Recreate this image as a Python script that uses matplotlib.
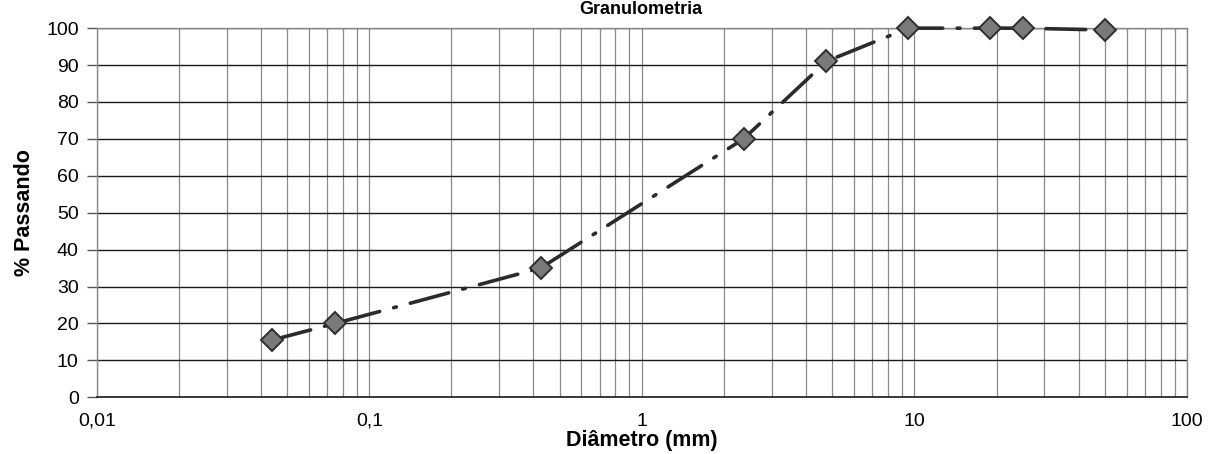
import numpy as np
import matplotlib.pyplot as plt
from matplotlib.ticker import FixedLocator, LogLocator, NullFormatter

# grain size analysis
diametro = [0.044, 0.075, 0.425, 2.36, 4.75, 9.5, 19, 25, 50]
passando = [15.5, 20, 35, 70, 91, 100, 100, 100, 99.5]

x_ticks = [0.01, 0.1, 1, 10, 100]
x_labels = ["0,01", "0,1", "1", "10", "100"]
y_ticks = list(range(0, 101, 10))

plt.rcParams['font.family'] = ['Liberation Sans', 'DejaVu Sans']

fig = plt.figure(figsize=(12.10, 4.54), dpi=100)
ax = fig.add_axes([0.080, 0.125, 0.901, 0.813])

ax.plot(diametro, passando, color="#2b2b2b", lw=2.6,
        dashes=(11, 4, 0.8, 4), dash_capstyle="round",
        marker="D", markersize=11, markerfacecolor="#7a7a7a",
        markeredgecolor="#2e2e2e", markeredgewidth=1.4, zorder=3,
        clip_on=False)

ax.set_xscale("log")
ax.set_xlim(0.01, 100)
ax.set_ylim(0, 100)

ax.xaxis.set_major_locator(FixedLocator(x_ticks))
ax.set_xticklabels(x_labels)
ax.xaxis.set_minor_locator(LogLocator(base=10, subs=np.arange(2, 10)))
ax.xaxis.set_minor_formatter(NullFormatter())
ax.set_yticks(y_ticks)

ax.grid(True, which="major", axis="y", color="#1a1a1a", lw=1.0)
ax.grid(True, which="both", axis="x", color="#8a8a8a", lw=0.9)

ax.tick_params(axis="y", which="major", direction="out", length=7, width=1,
               color="#555555", labelsize=14, pad=6)
ax.tick_params(axis="x", which="both", length=0, labelsize=14, pad=11)

for side in ["left", "top", "right"]:
    ax.spines[side].set_color("#8a8a8a")
    ax.spines[side].set_linewidth(1.0)
ax.spines["bottom"].set_color("#1a1a1a")
ax.spines["bottom"].set_linewidth(1.2)

ax.set_xlabel("Diâmetro (mm)", fontsize=15.5, fontweight="bold", labelpad=0)
ax.set_ylabel("% Passando", fontsize=15.5, fontweight="bold", labelpad=8)

fig.text(0.53, 0.998, "Granulometria", ha="center", va="top",
         fontsize=13, fontweight="bold")

fig.savefig("out.png", dpi=100)
